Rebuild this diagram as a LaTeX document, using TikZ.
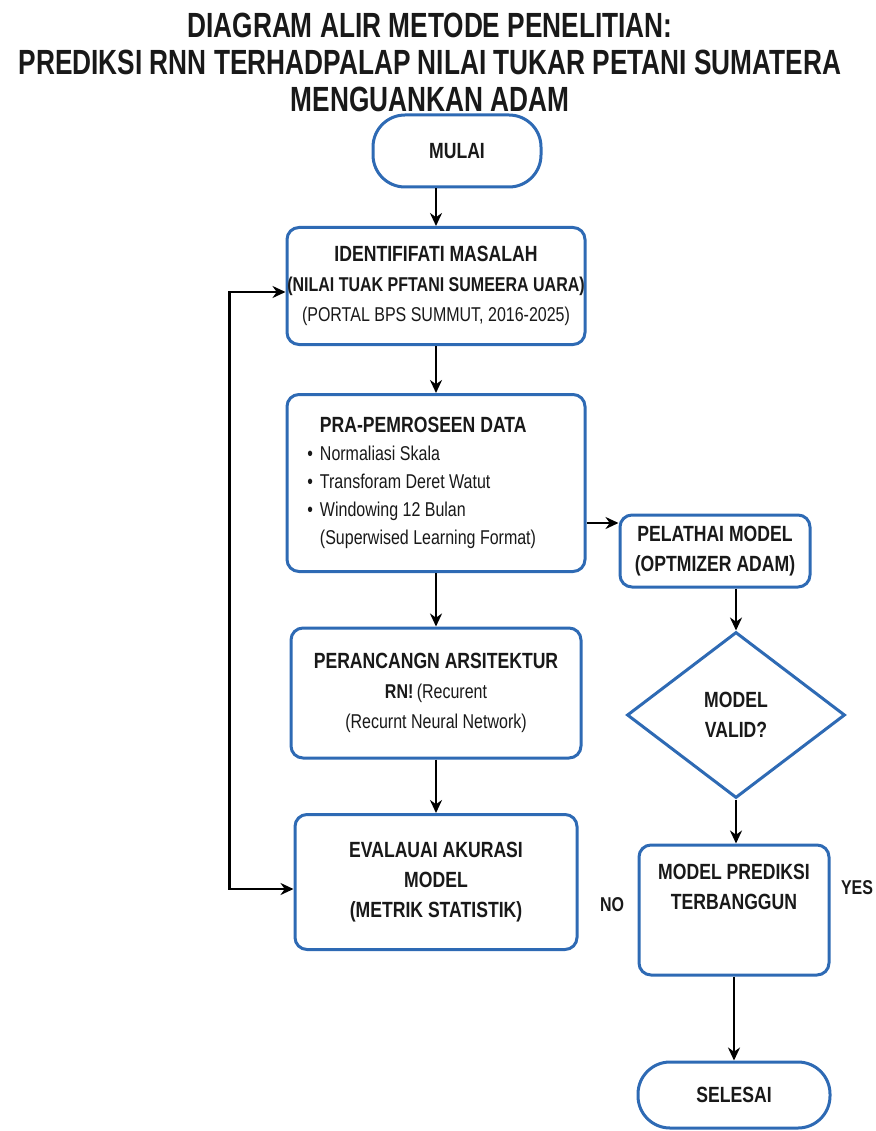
\documentclass[tikz,border=0pt]{standalone}
\usepackage{fontspec}
\setmainfont[FakeStretch=0.8]{Liberation Sans}
\newfontfamily\titlefont[FakeStretch=0.75]{Liberation Sans}
\usepackage{xcolor}
\usetikzlibrary{arrows.meta,shapes.geometric,positioning}
\definecolor{boxblue}{RGB}{46,106,180}
\definecolor{inktext}{RGB}{25,25,25}
\newcommand{\boxhead}[1]{{\fontsize{22}{30}\selectfont\bfseries #1}}

\begin{document}
\begin{tikzpicture}[x=1pt,y=-1pt]
	\tikzstyle{every node}=[font=\fontsize{20}{30}\selectfont, text=inktext]
	\tikzstyle{box}=[draw=boxblue, line width=3pt, rounded corners=12pt, fill=white, align=center, inner sep=0pt]
	\tikzstyle{term}=[box, rounded corners=32pt, font=\fontsize{22}{30}\selectfont\bfseries]
	\tikzstyle{decision}=[diamond, draw=boxblue, line width=3pt, fill=white, align=center, inner sep=0pt, minimum width=218pt, minimum height=166pt, aspect=1.31]
	\tikzstyle{flow}=[line width=2.8pt, ->, >={Stealth[length=13pt,width=12pt]}]
	\useasboundingbox (0,0) rectangle (875,1131);
	% title
	\node [font=\titlefont\fontsize{35}{37}\selectfont\bfseries, align=center] (title) at (430,62) {DIAGRAM ALIR METODE PENELITIAN:\\PREDIKSI RNN TERHADPALAP NILAI TUKAR PETANI SUMATERA\\MENGUANKAN ADAM};
	% left column
	\node [term, minimum width=168pt, minimum height=72pt] (mulai) at (457,151) {MULAI};
	\node [box, minimum width=298pt, minimum height=117pt] (ident) at (436,286) {\boxhead{IDENTIFIFATI MASALAH}\\{\bfseries (NILAI TUAK PFTANI SUMEERA UARA)}\\(PORTAL BPS SUMMUT, 2016-2025)};
	\node [box, minimum width=298pt, minimum height=177pt, align=left, font=\fontsize{20}{28}\selectfont] (pra) at (436,483) {\boxhead{PRA-PEMROSEEN DATA}\\\llap{\textbullet\hspace{7pt}}Normaliasi Skala\\\llap{\textbullet\hspace{7pt}}Transforam Deret Watut\\\llap{\textbullet\hspace{7pt}}Windowing 12 Bulan\\(Superwised Learning Format)\hspace*{16pt}};
	\node [box, minimum width=290pt, minimum height=130pt] (rancang) at (436,693) {\boxhead{PERANCANGN ARSITEKTUR}\\{\bfseries RN!}\,(Recurent\\(Recurnt Neural Network)};
	\node [box, minimum width=282pt, minimum height=135pt] (evaluasi) at (436,882) {\boxhead{EVALAUAI AKURASI}\\\boxhead{MODEL}\\\boxhead{(METRIK STATISTIK)}};
	% right column
	\node [box, minimum width=190pt, minimum height=72pt] (latih) at (715,551) {\boxhead{PELATHAI MODEL}\\\boxhead{(OPTMIZER ADAM)}};
	\node [decision] (valid) at (736,715) {\boxhead{MODEL}\\\boxhead{VALID?}};
	\node [box, minimum width=190pt, minimum height=130pt] (prediksi) at (734,910) {};
	\node [align=center] (prediksitext) at (734,887) {\boxhead{MODEL PREDIKSI}\\\boxhead{TERBANGGUN}};
	\node [term, minimum width=192pt, minimum height=66pt] (selesai) at (734,1095) {SELESAI};
	\node [font=\fontsize{20}{30}\selectfont\bfseries] (no) at (612,905) {NO};
	\node [font=\fontsize{20}{30}\selectfont\bfseries] (yes) at (857,888) {YES};
	% connectors
	\draw [flow] (mulai.south -| ident.north) -- (ident.north);
	\draw [flow] (ident) -- (pra);
	\draw [flow] (pra) -- (rancang);
	\draw [flow] (rancang) -- (evaluasi);
	\draw [flow] ([yshift=-40pt]pra.east) coordinate (praout) -- (praout -| latih.west);
	\draw [flow] (latih.south -| valid.north) -- (valid.north);
	\draw [flow] (valid.south) -- (valid.south |- prediksi.north);
	\draw [flow] (prediksi) -- (selesai);
	\draw [flow, <->] ([yshift=-7pt]evaluasi.west) -- ++(-64,0) |- ([yshift=-6pt]ident.west);
\end{tikzpicture}
\end{document}
